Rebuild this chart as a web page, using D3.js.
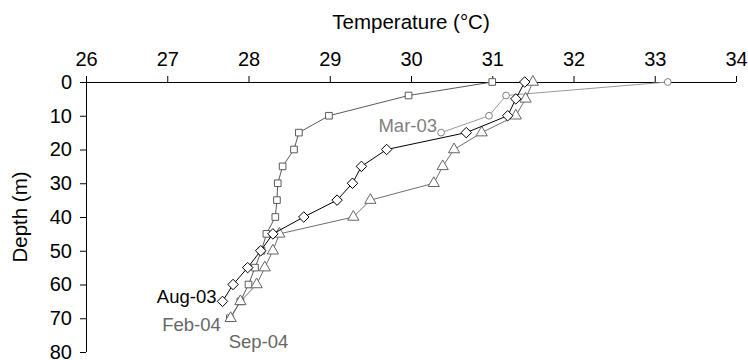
<!DOCTYPE html>
<html>
<head>
<meta charset="utf-8">
<script src="https://cdn.jsdelivr.net/npm/d3@7"></script>
<style>
  body { margin: 0; background: #fff; }
  text { font-family: Arial, "Liberation Sans", sans-serif; }
</style>
</head>
<body>
<svg id="chart" width="748" height="360"></svg>
<script>
// Temperature profiles (depth in m, temperature in deg C)
var tempTicks = [26, 27, 28, 29, 30, 31, 32, 33, 34];
var depthTicks = [0, 10, 20, 30, 40, 50, 60, 70, 80];

var mar03Depth = [0, 4, 10, 15];
var mar03Temp = [33.16, 31.17, 30.96, 30.37];

var aug03Depth = [0, 5, 10, 15, 20, 25, 30, 35, 40, 45, 50, 55, 60, 65];
var aug03Temp = [31.4, 31.29, 31.19, 30.68, 29.7, 29.39, 29.28, 29.09, 28.68, 28.3, 28.15, 27.99, 27.81, 27.68];

var feb04Depth = [0, 4, 10, 15, 20, 25, 30, 35, 40, 45, 50, 55, 60, 65, 70];
var feb04Temp = [31.0, 29.97, 28.99, 28.62, 28.56, 28.42, 28.36, 28.35, 28.33, 28.22, 28.16, 28.08, 28.0, 27.9, 27.77];

var sep04Depth = [0, 5, 10, 15, 20, 25, 30, 35, 40, 45, 50, 55, 60, 65, 70];
var sep04Temp = [31.5, 31.41, 31.29, 30.87, 30.53, 30.39, 30.28, 29.5, 29.29, 28.38, 28.3, 28.2, 28.1, 27.9, 27.78];

var seriesNames = ['Mar-03', 'Aug-03', 'Feb-04', 'Sep-04'];

var svg = d3.select('#chart');

var x = d3.scaleLinear().domain([26, 34]).range([86, 736]);
var y = d3.scaleLinear().domain([0, 80]).range([82, 352]);

var tickFont = 20;
var titleFont = 20.5;
var labelFont = 18.5;

// top axis
var xAxis = svg.append('g')
	.attr('transform', 'translate(0,' + y(0) + ')')
	.call(d3.axisTop(x).tickValues(tempTicks).tickSize(6).tickPadding(10).tickFormat(d3.format('d')));

// left axis
var yAxis = svg.append('g')
	.attr('transform', 'translate(' + x(26) + ',0)')
	.call(d3.axisLeft(y).tickValues(depthTicks).tickSize(6).tickPadding(8).tickFormat(d3.format('d')));

[xAxis, yAxis].forEach(function(a) {
	a.select('.domain').attr('stroke', '#000').attr('stroke-width', 1);
	a.selectAll('.tick line').attr('stroke', '#000');
	a.selectAll('.tick text')
		.attr('fill', '#000')
		.style('font-size', tickFont + 'px')
		.style('font-family', 'Arial, "Liberation Sans", sans-serif');
});
// plain axis lines, no end caps
xAxis.select('.domain').attr('d', 'M' + x(26) + ',0.5H' + x(34));
yAxis.select('.domain').attr('d', 'M0.5,' + y(0) + 'V' + y(80));

// axis titles
svg.append('text')
	.attr('x', (x(26) + x(34)) / 2)
	.attr('y', 29)
	.attr('text-anchor', 'middle')
	.style('font-size', titleFont + 'px')
	.text('Temperature (\u00B0C)');

svg.append('text')
	.attr('transform', 'translate(27,' + ((y(0) + y(80)) / 2) + ') rotate(-90)')
	.attr('text-anchor', 'middle')
	.style('font-size', titleFont + 'px')
	.text('Depth (m)');

function zip(depths, temps) {
	return depths.map(function(d, i) { return { depth: d, temp: temps[i] }; });
}

// lx/ly: label offset from the last point of the profile
var series = [
	{ name: seriesNames[0], data: zip(mar03Depth, mar03Temp), symbol: d3.symbolCircle, size: 36, stroke: '#808080', line: '#999', label: '#7f7f7f', lx: -4, ly: -1, anchor: 'end' },
	{ name: seriesNames[1], data: zip(aug03Depth, aug03Temp), symbol: d3.symbolDiamond2, size: 70, stroke: '#000', line: '#000', label: '#000', lx: -6, ly: 2, anchor: 'end' },
	{ name: seriesNames[2], data: zip(feb04Depth, feb04Temp), symbol: d3.symbolSquare2, size: 56, stroke: '#595959', line: '#595959', label: '#666', lx: -9, ly: 13, anchor: 'end' },
	{ name: seriesNames[3], data: zip(sep04Depth, sep04Temp), symbol: d3.symbolTriangle2, size: 90, stroke: '#666', line: '#6e6e6e', label: '#666', lx: -2, ly: 30, anchor: 'start' }
];

var line = d3.line()
	.x(function(d) { return x(d.temp); })
	.y(function(d) { return y(d.depth); });

var drawOrder = [2, 0, 3, 1];

drawOrder.forEach(function(si) {
	var s = series[si];
	var g = svg.append('g').attr('class', 'series');

	g.append('path')
		.datum(s.data)
		.attr('d', line)
		.attr('fill', 'none')
		.attr('stroke', s.line)
		.attr('stroke-width', 1);

	g.selectAll('path.mark')
		.data(s.data)
		.enter().append('path')
		.attr('class', 'mark')
		.attr('transform', function(d) { return 'translate(' + x(d.temp) + ',' + y(d.depth) + ')'; })
		.attr('d', d3.symbol().type(s.symbol).size(s.size))
		.attr('fill', '#fff')
		.attr('stroke', s.stroke)
		.attr('stroke-width', 1);

	var last = s.data[s.data.length - 1];
	g.append('text')
		.attr('x', x(last.temp) + s.lx)
		.attr('y', y(last.depth) + s.ly)
		.attr('text-anchor', s.anchor)
		.attr('fill', s.label)
		.style('font-size', labelFont + 'px')
		.text(s.name);
});
</script>
</body>
</html>
